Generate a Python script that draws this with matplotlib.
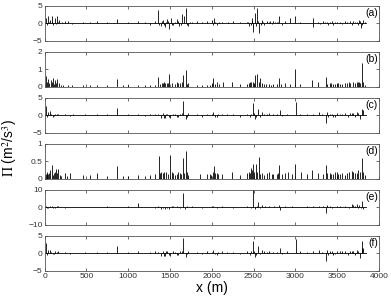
import numpy as np
import matplotlib.pyplot as plt

plt.rcParams['font.family'] = ['Liberation Sans', 'DejaVu Sans']
plt.rcParams['mathtext.fontset'] = 'stix'

# spike positions (m) and values
xa = [18, 46, 66, 86, 106, 126, 153, 177, 205, 245, 285, 325, 465, 544, 632, 743, 871, 1003,
      1122, 1200, 1261, 1321, 1361, 1389, 1413, 1441, 1469, 1493, 1509, 1540, 1580, 1612, 1640,
      1668, 1692, 1720, 1760, 1820, 1880, 1940, 2000, 2027, 2060, 2119, 2198, 2258, 2338, 2418,
      2450, 2477, 2497, 2517, 2545, 2569, 2597, 2625, 2657, 2697, 2737, 2777, 2808, 2836, 2876,
      2936, 2996, 3055, 3207, 3215, 3275, 3334, 3374, 3434, 3474, 3534, 3594, 3653, 3693, 3733,
      3765, 3785, 3813, 3833,
      30, 58, 94, 140, 165, 1375, 1400, 1425, 1455, 1480, 1525, 1560, 1595, 1630, 1700, 1740,
      2010, 2040, 2090, 2435, 2465, 2485, 2530, 2555, 2585, 2610, 2680, 2720, 2760, 2790,
      3300, 3355, 3395, 3415, 3455, 3500, 3560, 3620, 3680, 3715, 3750, 3775, 3800]
ya = [1.5, 2.0, 1.0, 2.2, -0.5, 1.5, 2.0, 1.0, 0.5, 0.6, 0.8, -0.3, 0.4, 0.5, 0.7, 0.3, 1.2, 0.3,
      0.6, 0.3, -0.4, 0.8, 3.8, -0.8, 1.0, -1.0, 1.2, -1.5, 1.5, -0.5, 1.2, -0.7, 2.8,
      2.0, 4.5, -0.8, 0.5, 0.6, 0.5, 0.8, 1.0, 1.6, -0.5, 0.4, 0.4, 0.6, 0.3, 0.5,
      -0.8, 1.5, -2.5, 3.0, 4.5, -2.8, 1.0, -0.5, 0.8, 0.6, 0.8, 0.5, 2.2, -0.5, 0.8,
      1.5, 2.0, 0.4, 1.5, -1.0, 0.5, 0.8, 0.5, 0.7, 0.5, 0.5, 0.6, 0.6, 0.8, 0.5,
      1.0, -1.2, 1.0, 0.3,
      -0.4, 0.5, 0.4, -0.3, 0.5, -0.5, 0.6, -0.6, 0.5, 0.7, -0.4, 0.5, 0.6, -0.5, -0.6, 0.4,
      -0.4, 0.5, 0.3, 0.4, -0.6, 0.7, -0.7, 0.6, -0.5, 0.4, 0.4, -0.3, 0.4, 0.5,
      -0.3, 0.4, -0.5, 0.4, -0.4, 0.4, -0.3, 0.4, -0.4, 0.5, -0.5, 0.6, -0.6]

xb = [18, 46, 74, 98, 126, 153, 177, 225, 285, 325, 464, 544, 624, 743, 871, 943, 1003, 1122,
      1202, 1261, 1321, 1361, 1401, 1441, 1469, 1493, 1520, 1580, 1620, 1652, 1692, 1720,
      1820, 1879, 1939, 1979, 2019, 2059, 2139, 2238, 2338, 2418, 2457, 2517, 2545, 2577,
      2625, 2688, 2738, 2808, 2876, 2936, 2995, 3055, 3195, 3274, 3366, 3414, 3454, 3494,
      3534, 3594, 3653, 3693, 3733, 3765, 3793, 3833,
      30, 58, 86, 110, 140, 195, 1380, 1415, 1430, 1480, 1560, 1600, 1640, 1705, 2000, 2040,
      2090, 2440, 2475, 2490, 2505, 2560, 2600, 2650, 2710, 2780, 2830, 3380, 3430, 3470,
      3515, 3560, 3620, 3640, 3710, 3750, 3780, 3815]
yb = [0.6, 0.45, 0.4, 0.5, 0.4, 0.45, 0.2, 0.1, 0.1, 0.08, 0.08, 0.1, 0.1, 0.08, 0.45, 0.1, 0.1, 0.1,
      0.08, 0.1, 0.1, 0.55, 0.2, 0.2, 0.2, 0.75, 0.2, 0.25, 0.2, 0.65, 0.95, 0.2,
      0.1, 0.1, 0.1, 0.1, 0.5, 0.3, 0.25, 0.3, 0.15, 0.15, 0.3, 0.7, 0.75, 0.5,
      0.15, 0.15, 0.15, 0.5, 0.2, 0.15, 1.0, 0.15, 0.4, 0.25, 0.55, 0.2, 0.15, 0.2,
      0.15, 0.2, 0.2, 0.3, 0.25, 0.3, 1.35, 0.1,
      0.25, 0.2, 0.3, 0.15, 0.2, 0.1, 0.15, 0.2, 0.25, 0.2, 0.15, 0.2, 0.3, 0.15, 0.2, 0.15,
      0.15, 0.2, 0.25, 0.3, 0.2, 0.25, 0.2, 0.15, 0.1, 0.15, 0.15, 0.15, 0.2, 0.15,
      0.2, 0.15, 0.2, 0.25, 0.2, 0.25, 0.2, 0.3]

xc = [18, 46, 66, 98, 126, 165, 245, 305, 345, 484, 624, 743, 871, 1003, 1122, 1202, 1261, 1321,
      1389, 1413, 1441, 1469, 1501, 1540, 1580, 1620, 1660, 1688, 1720, 1820, 1879, 1939, 2019,
      2059, 2119, 2178, 2258, 2338, 2418, 2457, 2489, 2517, 2557, 2597, 2688, 2738, 2816, 2896,
      3003, 3055, 3135, 3207, 3286, 3366, 3374, 3414, 3454, 3494, 3534, 3594, 3653, 3693, 3733,
      3773, 3793, 3813,
      30, 80, 110, 145, 1360, 1425, 1455, 1485, 1560, 1600, 1640, 1705, 2000, 2035, 2080,
      2470, 2505, 2530, 2575, 2620, 2660, 2780, 2840, 3320, 3395, 3435, 3475, 3560, 3625,
      3675, 3715, 3750]
yc = [2.7, 0.8, 1.2, -0.4, 0.5, 0.5, 0.3, -0.3, 0.3, 0.3, 0.3, 0.3, 2.0, 0.3, 0.5, -0.3, 0.4, 0.5,
      -0.8, 0.6, -0.8, 0.5, -0.8, 0.5, -0.6, 0.5, 4.2, -1.2, 0.6, 0.4, -0.4, 0.5, 1.0,
      -0.5, 0.5, 0.4, 0.4, -0.4, 0.5, -0.5, 3.4, -1.0, 1.8, 0.8, 0.6, 0.4, 1.5, 0.5,
      3.9, 0.5, 0.3, 0.5, 0.8, -2.2, 1.0, 0.5, -0.6, 0.6, 0.5, 0.6, 0.7, 0.6, 0.8,
      -1.2, 1.8, 1.5,
      -0.5, 0.4, -0.3, 0.3, 0.4, -0.7, 0.5, -0.6, 0.4, -0.5, 0.6, -0.4, 0.4, -0.4, 0.3,
      0.5, 0.6, -0.5, -0.4, 0.5, 0.3, 0.4, -0.3, 0.4, -0.5, 0.5, -0.4, 0.5, -0.5,
      0.6, -0.5, 0.7]

xd = [18, 34, 58, 86, 114, 138, 165, 185, 245, 305, 464, 544, 624, 743, 871, 943, 1003, 1122,
      1202, 1261, 1321, 1369, 1413, 1453, 1501, 1540, 1580, 1620, 1652, 1692, 1720, 1860, 1939,
      1979, 2019, 2031, 2059, 2119, 2238, 2338, 2418, 2457, 2497, 2529, 2565, 2597, 2688, 2738,
      2776, 2808, 2876, 2916, 2964, 2995, 3067, 3135, 3195, 3274, 3334, 3366, 3414, 3454, 3494,
      3534, 3613, 3673, 3733, 3773, 3793, 3833,
      26, 46, 70, 100, 126, 150, 200, 265, 1380, 1395, 1430, 1475, 1520, 1560, 1600, 1635,
      1670, 1705, 1990, 2045, 2080, 2440, 2475, 2485, 2510, 2545, 2580, 2620, 2660, 2720,
      2790, 2840, 3380, 3430, 3470, 3510, 3560, 3590, 3640, 3690, 3715, 3755, 3810]
yd = [0.14, 0.14, 0.17, 0.38, 0.16, 0.28, 0.28, 0.1, 0.15, 0.15, 0.1, 0.1, 0.15, 0.08, 0.35, 0.08, 0.08, 0.1,
      0.08, 0.1, 0.12, 0.65, 0.15, 0.2, 0.68, 0.15, 0.12, 0.15, 0.6, 0.8, 0.1, 0.12, 0.12,
      0.12, 0.2, 0.35, 0.15, 0.12, 0.2, 0.1, 0.15, 0.15, 0.43, 0.43, 0.63, 0.15, 0.2, 0.12,
      0.12, 0.38, 0.15, 0.2, 0.12, 0.42, 0.2, 0.12, 0.25, 0.15, 0.12, 0.38, 0.15, 0.12, 0.2,
      0.12, 0.15, 0.22, 0.15, 0.2, 0.6, 0.1,
      0.2, 0.12, 0.25, 0.1, 0.2, 0.15, 0.08, 0.08, 0.15, 0.2, 0.18, 0.12, 0.18, 0.1, 0.2, 0.12,
      0.15, 0.2, 0.1, 0.15, 0.12, 0.2, 0.3, 0.25, 0.18, 0.2, 0.12, 0.1, 0.15, 0.12,
      0.15, 0.12, 0.15, 0.12, 0.18, 0.12, 0.15, 0.1, 0.18, 0.2, 0.15, 0.25, 0.2]

xe = [18, 46, 86, 126, 165, 245, 325, 544, 743, 871, 1003, 1113, 1202, 1321, 1389, 1441, 1493,
      1540, 1620, 1660, 1680, 1760, 1879, 2019, 2119, 2258, 2418, 2489, 2517, 2557, 2597, 2688,
      2808, 2816, 2876, 2964, 3135, 3207, 3286, 3366, 3374, 3414, 3494, 3594, 3673, 3693, 3733,
      3765, 3785, 3801, 3813,
      30, 66, 106, 145, 1360, 1415, 1465, 1520, 1580, 1700, 2000, 2060, 2470, 2540, 2580,
      2640, 2740, 3330, 3440, 3540, 3640, 3720, 3750]
ye = [0.8, -0.6, 0.6, -0.5, 0.4, -0.3, 0.3, 0.3, 0.4, 0.3, 0.4, 2.3, 0.3, -0.5, -1.0, -1.0, -0.8,
      0.5, -0.6, 8.0, -1.0, 0.5, -0.5, 0.8, 0.5, -0.5, 0.5, 10.5, -1.0, 3.0, 1.0, 0.6,
      1.5, -1.5, 0.5, 0.5, 0.4, 0.5, 0.4, -3.5, 1.5, 0.5, 0.5, 0.5, 1.8, 1.5, 1.8,
      1.2, -0.6, 3.6, -1.0,
      -0.5, 0.5, -0.4, 0.4, 0.4, -0.6, -0.7, 0.5, 0.4, 0.5, 0.4, -0.4, -0.6, 0.7, -0.5,
      0.4, 0.5, 0.4, -0.5, 0.6, -0.5, 0.8, -0.6]

xf = [18, 46, 66, 98, 126, 165, 245, 305, 484, 624, 743, 871, 1003, 1122, 1261, 1321, 1389, 1413,
      1441, 1469, 1501, 1540, 1580, 1620, 1660, 1688, 1720, 1820, 1879, 1939, 2019, 2059, 2119,
      2178, 2258, 2338, 2418, 2457, 2489, 2517, 2557, 2597, 2688, 2738, 2816, 2896, 3003, 3055,
      3135, 3207, 3286, 3366, 3374, 3414, 3454, 3494, 3534, 3594, 3653, 3693, 3733, 3773, 3793,
      3801, 3813,
      30, 80, 110, 145, 1360, 1425, 1455, 1485, 1560, 1600, 1640, 1705, 2000, 2035, 2080,
      2470, 2505, 2530, 2575, 2620, 2660, 2780, 2840, 3320, 3395, 3435, 3475, 3560, 3625,
      3675, 3715, 3750]
yf = [2.8, 0.8, 1.0, -0.4, 0.5, 0.5, 0.3, -0.3, 0.3, 0.3, 0.3, 2.0, 0.3, 0.5, 0.4, 0.5, -0.8, 0.6,
      -0.8, 0.5, -0.8, 0.5, -0.6, 0.5, 4.2, -1.0, 0.6, 0.4, -0.4, 0.5, 1.0, -0.5, 0.5,
      0.4, 0.4, -0.4, 0.5, -0.5, 3.5, -1.2, 2.0, 0.8, 0.6, 0.4, 1.5, 0.5, 3.9, 0.5,
      0.3, 0.5, 0.8, -2.3, 1.0, 0.5, -0.6, 0.6, 0.5, 0.6, 0.7, 0.6, 0.8, -1.3, 1.5,
      3.4, 1.5,
      -0.5, 0.4, -0.3, 0.3, 0.4, -0.7, 0.5, -0.6, 0.4, -0.5, 0.6, -0.4, 0.4, -0.4, 0.3,
      0.5, 0.6, -0.5, -0.4, 0.5, 0.3, 0.4, -0.3, 0.4, -0.5, 0.5, -0.4, 0.5, -0.5,
      0.6, -0.5, 0.7]

panels = [(xa, ya, 'a'), (xb, yb, 'b'), (xc, yc, 'c'), (xd, yd, 'd'), (xe, ye, 'e'), (xf, yf, 'f')]
ylims = [(-5, 5), (0, 2), (-5, 5), (0, 1), (-10, 10), (-5, 5)]
yticks = [[-5, 0, 5], [0, 1, 2], [-5, 0, 5], [0, 0.5, 1], [-10, 0, 10], [-5, 0, 5]]
x_end = 3850

fig = plt.figure(figsize=(3.91, 2.96), dpi=100)
left, right, top, h, gap = 0.114, 0.969, 0.98, 0.118, 0.0372

axes = []
for i, (xs, ys, lab) in enumerate(panels):
    ax = fig.add_axes([left, top - h - i * (h + gap), right - left, h])
    ax.plot([0, x_end], [0, 0], color='k', lw=0.6)
    ax.vlines(xs, 0, ys, color='k', lw=0.6)
    ax.set_xlim(0, 4000)
    ax.set_ylim(*ylims[i])
    ax.set_yticks(yticks[i])
    ax.set_yticklabels([('%g' % t).replace('-', '\u2212') for t in yticks[i]])
    ax.set_xticks(np.arange(0, 4001, 500))
    ax.tick_params(direction='in', length=2.5, width=0.5, labelsize=6, pad=1.5,
                   top=True, right=True, colors='#333333')
    if i < 5:
        ax.set_xticklabels([])
    for s in ax.spines.values():
        s.set_linewidth(0.6)
        s.set_color('#555555')
    ax.text(0.997, 0.8, '(%s)' % lab, transform=ax.transAxes, ha='right', va='center',
            fontsize=7.5)
    axes.append(ax)

axes[-1].set_xlabel('x (m)', fontsize=10, labelpad=1)
fig.text(0.025, 0.5, r'$\Pi$ (m$^2$/s$^3$)', rotation=90, ha='center', va='center', fontsize=10)

fig.savefig('out.png', dpi=100)
